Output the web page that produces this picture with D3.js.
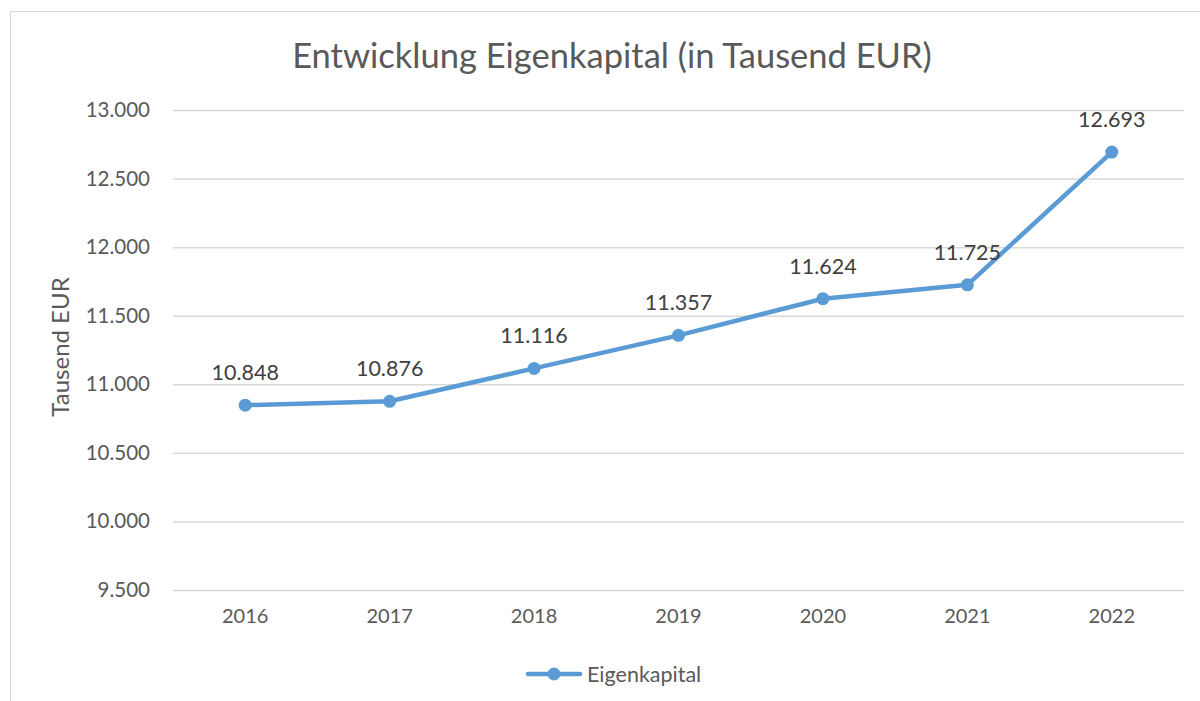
<!DOCTYPE html>
<html><head><meta charset="utf-8">
<script src="https://cdn.jsdelivr.net/npm/d3@7"></script>
<style>body{margin:0;background:#fff}svg{display:block}text{font-family:Lato,"Open Sans",sans-serif}</style>
</head><body><svg id="c" width="1200" height="701"></svg>
<script>
const categories = ["2016","2017","2018","2019","2020","2021","2022"];
const values = [10848, 10876, 11116, 11357, 11624, 11725, 12693];
const yTicks = [9500, 10000, 10500, 11000, 11500, 12000, 12500, 13000];
const seriesName = "Eigenkapital";
const title = "Entwicklung Eigenkapital (in Tausend EUR)";
const yLabel = "Tausend EUR";

const svg = d3.select("#c");
const fmt = v => d3.format(",.0f")(v).replace(/,/g, ".");
const L = 173, R = 1184, T = 110, B = 590;
const color = "#5B9BD5";

svg.append("rect").attr("x",10.5).attr("y",11.5).attr("width",1300).attr("height",800)
  .attr("fill","none").attr("stroke","#d9d9d9").attr("stroke-width",1);

const x = d3.scaleBand().domain(categories).range([L,R]);
const y = d3.scaleLinear().domain([9500,13000]).range([B,T]);

svg.append("text").attr("x",612).attr("y",68).attr("text-anchor","middle")
  .attr("font-size",34.5).attr("fill","#595959").text(title);

const ya = svg.append("g").attr("transform",`translate(${L},0)`)
  .call(d3.axisLeft(y).tickValues(yTicks).tickFormat(fmt).tickSize(-(R-L)).tickPadding(23));
ya.select(".domain").remove();
ya.selectAll("line").attr("stroke","#d9d9d9").attr("stroke-width",1.5);
ya.selectAll("text").attr("font-size",20.5).attr("fill","#595959").style("font-family","Lato");

const xa = svg.append("g").attr("transform",`translate(0,${B})`)
  .call(d3.axisBottom(x).tickSize(0).tickPadding(19));
xa.select(".domain").remove();
xa.selectAll("text").attr("font-size",20).attr("fill","#595959").style("font-family","Lato");

svg.append("text").attr("transform",`translate(69,347) rotate(-90)`).attr("text-anchor","middle")
  .attr("font-size",24).attr("fill","#595959").text(yLabel);

const cx = d => x(d) + x.bandwidth()/2;
const line = d3.line().x((d,i)=>cx(categories[i])).y(d=>y(d));
svg.append("path").datum(values).attr("d",line).attr("fill","none")
  .attr("stroke",color).attr("stroke-width",4.5).attr("stroke-linejoin","round").attr("stroke-linecap","round");
svg.selectAll("circle.pt").data(values).join("circle").attr("class","pt")
  .attr("cx",(d,i)=>cx(categories[i])).attr("cy",d=>y(d)).attr("r",6.5).attr("fill",color);
svg.selectAll("text.lbl").data(values).join("text").attr("class","lbl")
  .attr("x",(d,i)=>cx(categories[i])).attr("y",d=>y(d)-25).attr("text-anchor","middle")
  .attr("font-size",21.5).attr("fill","#404040").text(fmt);

const lg = svg.append("g");
lg.append("line").attr("x1",528).attr("x2",580).attr("y1",674).attr("y2",674)
  .attr("stroke",color).attr("stroke-width",4.5).attr("stroke-linecap","round");
lg.append("circle").attr("cx",554).attr("cy",674).attr("r",6.5).attr("fill",color);
lg.append("text").attr("x",587).attr("y",682).attr("font-size",21.5).attr("fill","#595959").text(seriesName);
</script></body></html>
